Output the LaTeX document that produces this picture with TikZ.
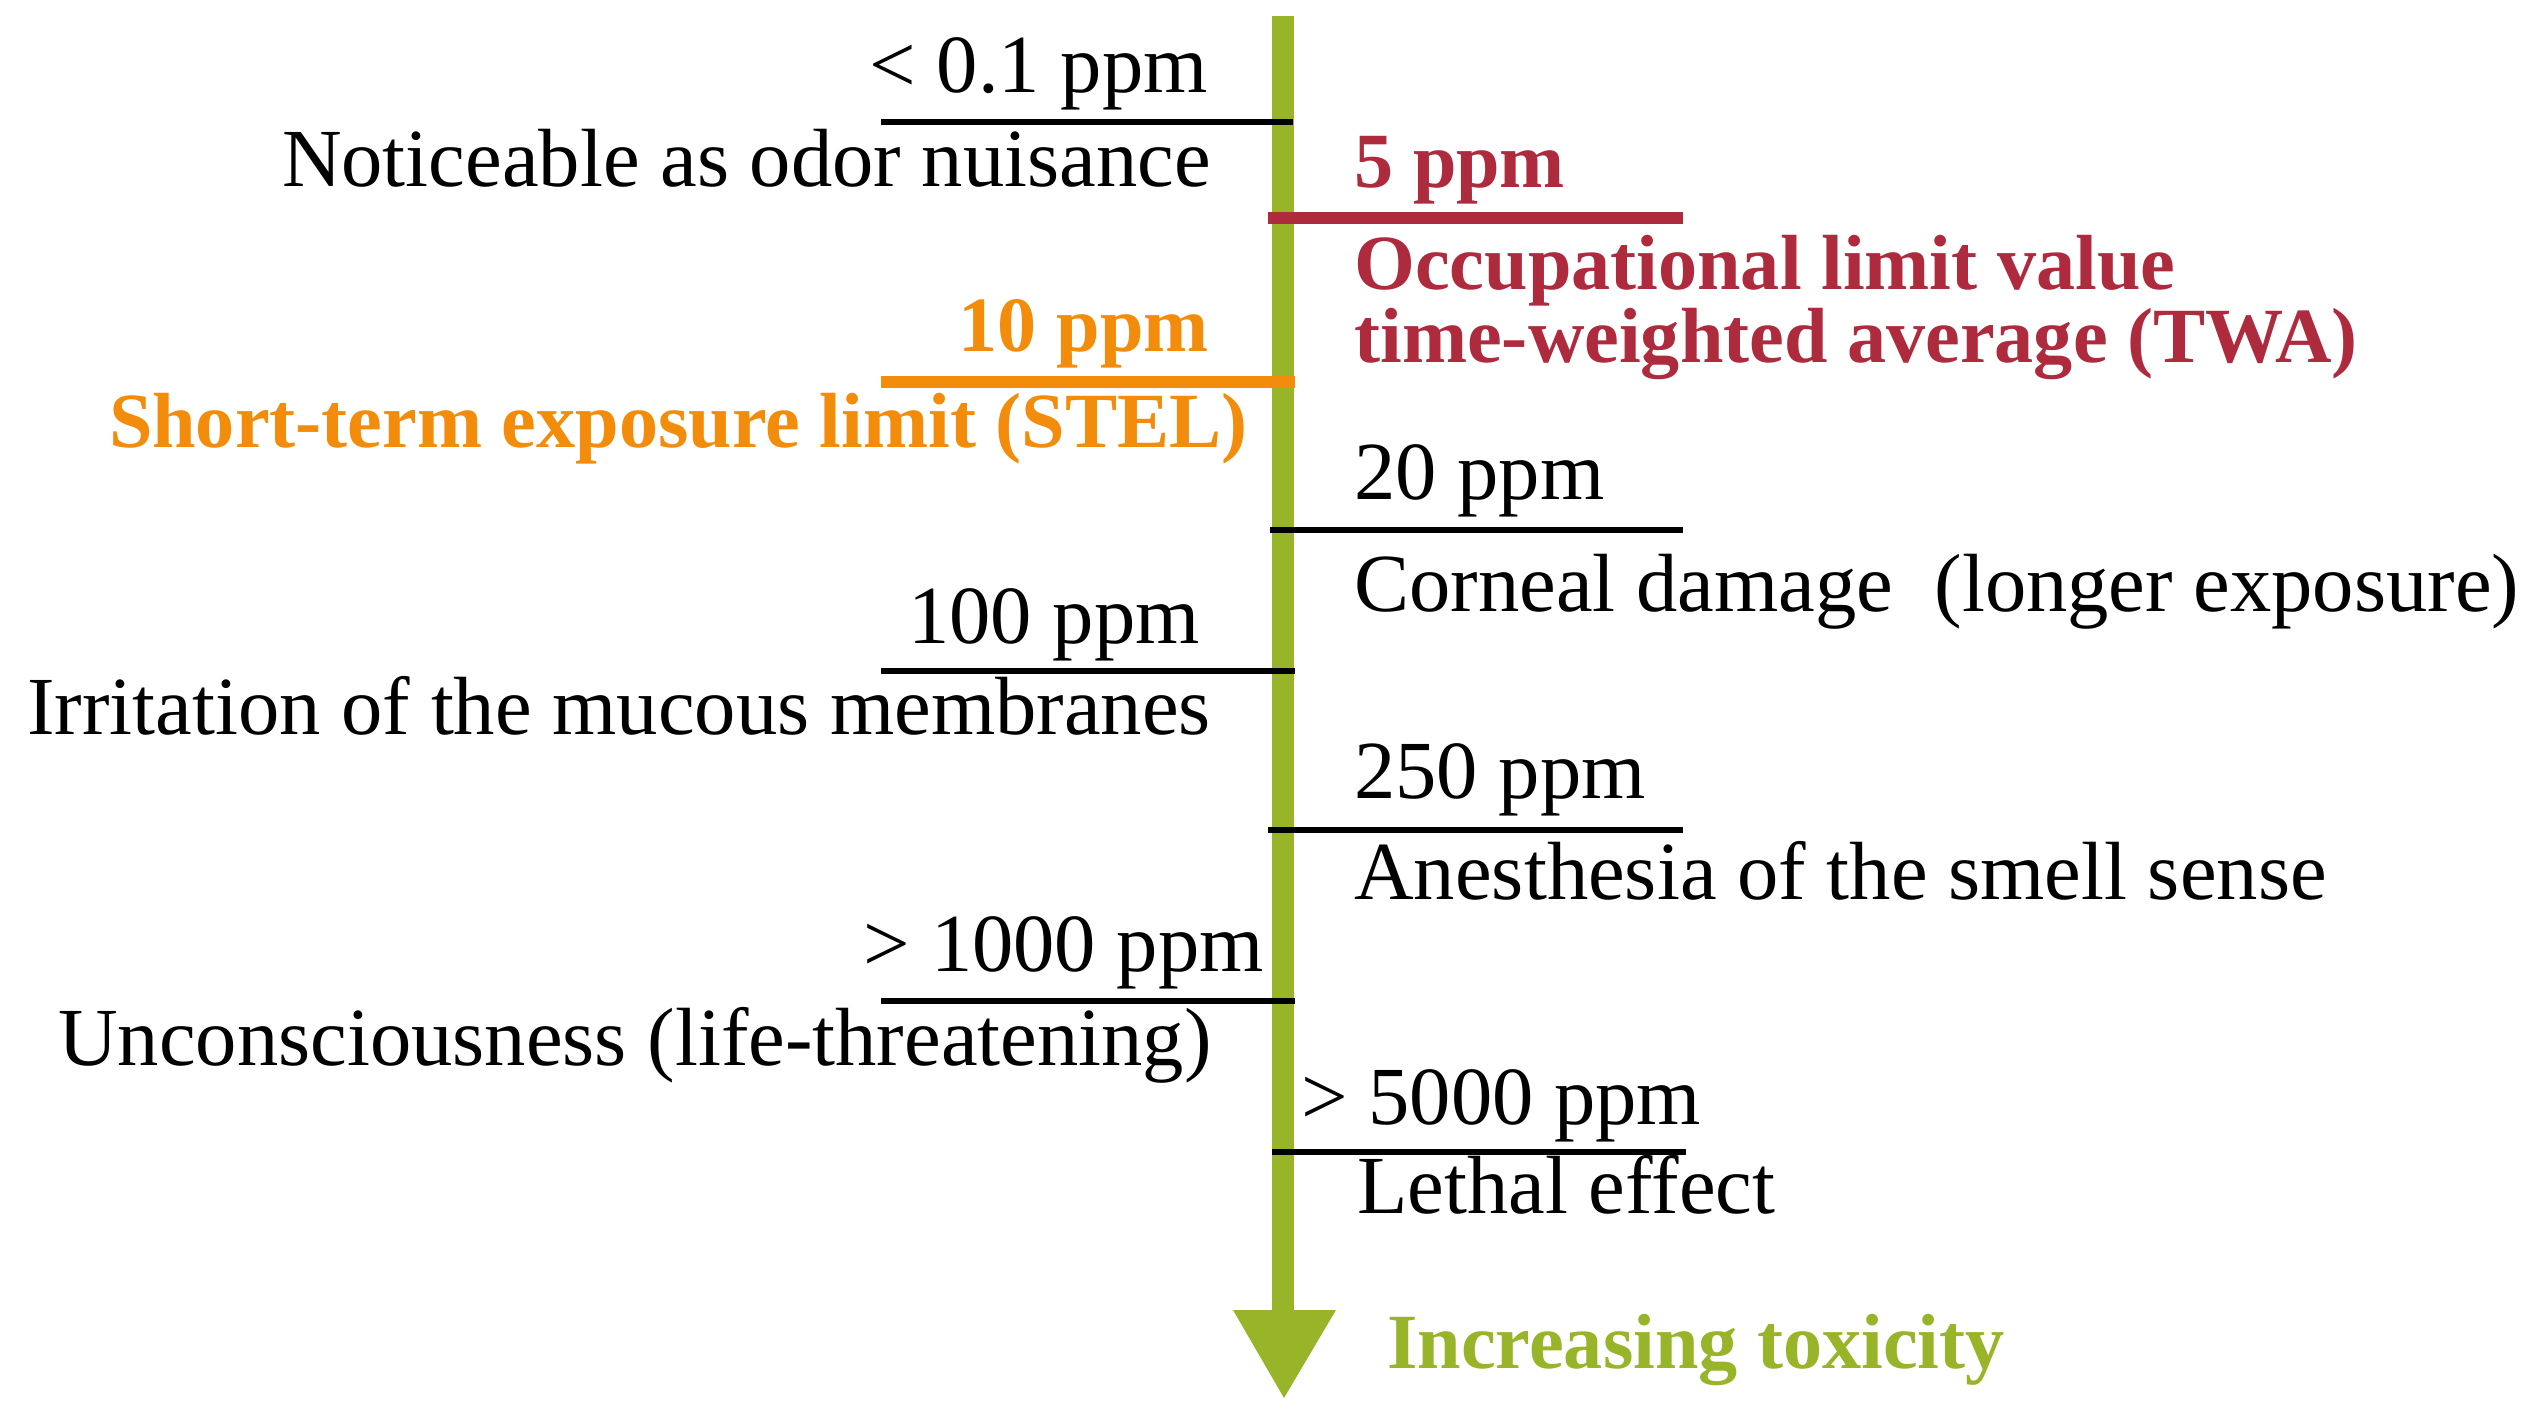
\documentclass[tikz,border=0pt]{standalone}
\usepackage{fontspec}
\setmainfont{Liberation Serif}
\definecolor{tred}{RGB}{174,43,62}
\definecolor{torange}{RGB}{242,140,10}
\definecolor{tgreen}{RGB}{152,180,40}
\tikzset{
  lbl/.style={inner sep=0pt, font=\fontsize{47}{54}\selectfont},
  lleft/.style={lbl, anchor=base east},
  lright/.style={lbl, anchor=base west},
  bld/.style={font=\fontsize{44.5}{54}\selectfont\bfseries},
  tick/.style={line width=3.8pt, black},
  ctick/.style={line width=7pt},
}
\begin{document}
\begin{tikzpicture}[x=0.02cm, y=-0.02cm]
\useasboundingbox (0,0) rectangle (2535,1415);
% axis
\coordinate (top) at (1283,16);
\coordinate (base) at (1283,1312);
\coordinate (tip) at (1284,1398);
\draw[tgreen, line width=13pt] (top) -- (base);
\fill[tgreen] (1233,1310) -- (1336,1310) -- (tip) -- cycle;
% ticks left
\draw[tick] (881,122) -- (1293,122);
\draw[ctick, torange] (881,382) -- (1295,382);
\draw[tick] (881,671) -- (1295,671);
\draw[tick] (881,1001) -- (1295,1001);
% ticks right
\draw[ctick, tred] (1268,218) -- (1683,218);
\draw[tick] (1270,530) -- (1683,530);
\draw[tick] (1268,830) -- (1683,830);
\draw[tick] (1272,1152) -- (1686,1152);
% left labels
\node[lleft] (a1) at (1208,93) {< 0.1 ppm};
\node[lleft] (a2) at (1211,187) {Noticeable as odor nuisance};
\node[lleft, torange, bld] (b1) at (1209,352) {10 ppm};
\node[lleft, torange, bld] (b2) at (1248,448) {Short-term exposure limit (STEL)};
\node[lleft] (c1) at (1200,643) {100 ppm};
\node[lleft] (c2) at (1211,734) {Irritation of the mucous membranes};
\node[lleft] (d1) at (1264,971) {> 1000 ppm};
\node[lleft] (d2) at (1212,1065) {Unconsciousness (life-threatening)};
% right labels
\node[lright, tred, bld] (e1) at (1354,188) {5 ppm};
\node[lright, tred, bld] (e2) at (1354,290) {Occupational limit value};
\node[lright, tred, bld] (e3) at (1354,363) {time-weighted average (TWA)};
\node[lright] (f1) at (1354,500) {20 ppm};
\node[lright] (f2) at (1354,611) {Corneal damage\ \ (longer exposure)};
\node[lright] (g1) at (1354,798) {250 ppm};
\node[lright] (g2) at (1354,899) {Anesthesia of the smell sense};
\node[lright] (h1) at (1301,1124) {> 5000 ppm};
\node[lright] (h2) at (1357,1213) {Lethal effect};
\node[lright, tgreen, bld] (i1) at (1387,1368) {Increasing toxicity};
\end{tikzpicture}
\end{document}
